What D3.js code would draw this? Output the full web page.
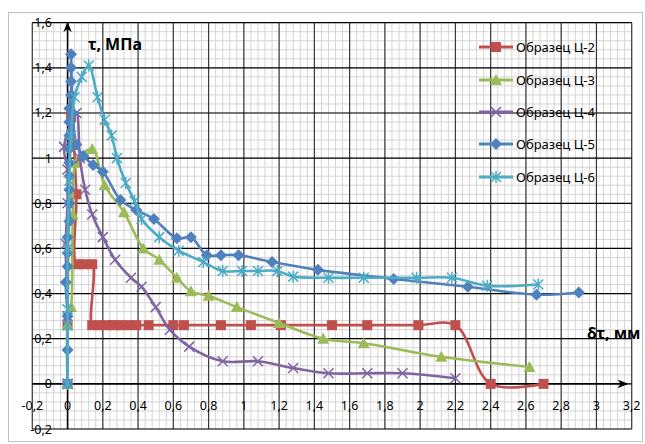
<!DOCTYPE html>
<html>
<head>
<meta charset="utf-8">
<script src="https://cdn.jsdelivr.net/npm/d3@7"></script>
<style>
  body { margin: 0; background: #fff; }
  svg text { font-family: "Noto Sans", "DejaVu Sans", sans-serif; }
</style>
</head>
<body>
<svg id="chart" width="645" height="444"></svg>
<script>
// series: [δτ, τ]
const c2 = [[0,0],[0,0.26],[0.02,1.18],[0.05,0.84],[0.05,0.53],[0.09,0.53],[0.14,0.53],[0.14,0.26],[0.18,0.26],[0.22,0.26],[0.26,0.26],[0.30,0.26],[0.34,0.26],[0.39,0.26],[0.46,0.26],[0.60,0.26],[0.66,0.26],[0.87,0.26],[1.04,0.26],[1.21,0.26],[1.50,0.26],[1.70,0.26],[1.99,0.26],[2.20,0.26],[2.40,0],[2.70,0]];
const c3 = [[0,0],[0,0.26],[0.02,0.34],[0.03,0.75],[0.05,0.98],[0.14,1.04],[0.21,0.88],[0.32,0.76],[0.43,0.60],[0.52,0.55],[0.62,0.47],[0.70,0.41],[0.80,0.39],[0.96,0.34],[1.20,0.27],[1.45,0.20],[1.68,0.18],[2.12,0.12],[2.62,0.075]];
const c4 = [[0,0],[0,0.3],[-0.01,0.62],[0,0.8],[0,0.95],[-0.02,1.05],[0.05,1.2],[0.07,1.0],[0.10,0.86],[0.14,0.75],[0.20,0.65],[0.27,0.55],[0.36,0.47],[0.42,0.43],[0.50,0.34],[0.58,0.24],[0.69,0.165],[0.88,0.10],[1.08,0.10],[1.28,0.07],[1.48,0.047],[1.70,0.047],[1.90,0.047],[2.20,0.025]];
const c5 = [[0,0],[0,0.15],[0,0.3],[-0.01,0.45],[0,0.52],[0,0.58],[0,0.65],[0.01,0.72],[0.01,0.8],[0.01,0.86],[0.01,0.92],[0.01,0.98],[0.01,1.04],[0.01,1.1],[0.01,1.16],[0.01,1.22],[0.02,1.28],[0.02,1.34],[0.02,1.4],[0.02,1.46],[0.03,1.2],[0.05,1.06],[0.09,1.01],[0.145,0.97],[0.20,0.94],[0.30,0.815],[0.39,0.77],[0.49,0.73],[0.62,0.645],[0.70,0.65],[0.79,0.57],[0.87,0.57],[0.97,0.57],[1.16,0.54],[1.42,0.505],[1.85,0.465],[2.27,0.43],[2.66,0.395],[2.90,0.405]];
const c6 = [[0,0],[0,0.26],[0,0.33],[0,0.6],[0.01,0.9],[0.02,1.1],[0.04,1.27],[0.08,1.36],[0.12,1.41],[0.17,1.27],[0.21,1.17],[0.25,1.10],[0.28,1.0],[0.33,0.89],[0.38,0.81],[0.42,0.73],[0.52,0.65],[0.63,0.59],[0.77,0.54],[0.88,0.50],[0.99,0.50],[1.08,0.50],[1.19,0.50],[1.28,0.475],[1.48,0.47],[1.68,0.47],[1.98,0.47],[2.18,0.47],[2.38,0.435],[2.67,0.44]];

const seriesNames = ["Образец Ц-2", "Образец Ц-3", "Образец Ц-4", "Образец Ц-5", "Образец Ц-6"];
const xTicks = [-0.2,0,0.2,0.4,0.6,0.8,1,1.2,1.4,1.6,1.8,2,2.2,2.4,2.6,2.8,3,3.2];
const yTicks = [-0.2,0,0.2,0.4,0.6,0.8,1,1.2,1.4,1.6];

const series = [
  { name: seriesNames[0], data: c2, color: "#C0504D", marker: "square" },
  { name: seriesNames[1], data: c3, color: "#9BBB59", marker: "triangle" },
  { name: seriesNames[2], data: c4, color: "#8064A2", marker: "x" },
  { name: seriesNames[3], data: c5, color: "#4F81BD", marker: "diamond" },
  { name: seriesNames[4], data: c6, color: "#4BACC6", marker: "star" },
];

const svg = d3.select("#chart");
const x = d3.scaleLinear().domain([-0.2, 3.2]).range([32.3, 631.7]);
const y = d3.scaleLinear().domain([-0.2, 1.6]).range([429, 22.7]);
const fmt = (v) => String(Math.round(v * 10) / 10).replace(".", ",");

// outer border
svg.append("rect").attr("x", 8.5).attr("y", 12.5).attr("width", 634).attr("height", 429)
  .attr("fill", "none").attr("stroke", "#c0c0c0");

// minor grid
const minorX = d3.range(-0.2, 3.2001, 0.04);
const minorY = d3.range(-0.2, 1.6001, 0.04);
const grid = svg.append("g");
grid.selectAll(".mx").data(minorX).join("line")
  .attr("x1", (d) => x(d)).attr("x2", (d) => x(d)).attr("y1", y(-0.2)).attr("y2", y(1.6))
  .attr("stroke", "#d4d4d4").attr("stroke-width", 1);
grid.selectAll(".my").data(minorY).join("line")
  .attr("y1", (d) => y(d)).attr("y2", (d) => y(d)).attr("x1", x(-0.2)).attr("x2", x(3.2))
  .attr("stroke", "#d4d4d4").attr("stroke-width", 1);
// major grid
grid.append("g").selectAll("line").data(xTicks).join("line")
  .attr("x1", (d) => x(d)).attr("x2", (d) => x(d)).attr("y1", y(-0.2)).attr("y2", y(1.6))
  .attr("stroke", "#3a3a3a").attr("stroke-width", 1.2);
grid.append("g").selectAll("line").data(yTicks).join("line")
  .attr("y1", (d) => y(d)).attr("y2", (d) => y(d)).attr("x1", x(-0.2)).attr("x2", x(3.2))
  .attr("stroke", "#000").attr("stroke-width", 1.2);

// axes with arrows
const defs = svg.append("defs");
defs.append("marker").attr("id", "arrow").attr("viewBox", "0 0 10 10")
  .attr("refX", 9).attr("refY", 5).attr("markerWidth", 7).attr("markerHeight", 7)
  .attr("orient", "auto")
  .append("path").attr("d", "M0,1 L10,5 L0,9 L3,5 Z").attr("fill", "#000");
svg.append("line").attr("x1", x(-0.2)).attr("x2", 627).attr("y1", y(0)).attr("y2", y(0))
  .attr("stroke", "#000").attr("stroke-width", 1.5).attr("marker-end", "url(#arrow)");
svg.append("line").attr("x1", x(0)).attr("x2", x(0)).attr("y1", y(-0.2)).attr("y2", y(1.6))
  .attr("stroke", "#000").attr("stroke-width", 1.5).attr("marker-end", "url(#arrow)");

// tick labels
svg.append("g").selectAll("text").data(xTicks).join("text")
  .attr("x", (d) => x(d)).attr("y", 410).attr("text-anchor", "middle")
  .attr("font-size", 12.5).attr("fill", "#000").text(fmt);
svg.append("g").selectAll("text").data(yTicks).join("text")
  .attr("x", 52).attr("y", (d) => y(d) + 4.5).attr("text-anchor", "end")
  .attr("font-size", 12.5).attr("fill", "#000").text(fmt);

// axis titles
svg.append("text").attr("x", 88).attr("y", 50).attr("font-size", 16).attr("font-weight", "bold")
  .text("τ, МПа");
svg.append("text").attr("x", 587).attr("y", 339).attr("font-size", 16).attr("font-weight", "bold")
  .text("δτ, мм");

function drawMarker(g, type, color, cx, cy) {
  if (type === "square") {
    g.append("rect").attr("x", cx - 5).attr("y", cy - 5).attr("width", 10).attr("height", 10).attr("fill", color);
  } else if (type === "triangle") {
    g.append("path").attr("d", `M${cx},${cy - 6} L${cx + 6},${cy + 5} L${cx - 6},${cy + 5} Z`).attr("fill", color);
  } else if (type === "diamond") {
    g.append("path").attr("d", `M${cx},${cy - 6} L${cx + 6},${cy} L${cx},${cy + 6} L${cx - 6},${cy} Z`).attr("fill", color);
  } else if (type === "x") {
    g.append("path").attr("d", `M${cx - 5},${cy - 5} L${cx + 5},${cy + 5} M${cx - 5},${cy + 5} L${cx + 5},${cy - 5}`)
      .attr("stroke", color).attr("stroke-width", 1.5);
  } else {
    g.append("path").attr("d", `M${cx - 5},${cy - 5} L${cx + 5},${cy + 5} M${cx - 5},${cy + 5} L${cx + 5},${cy - 5} M${cx},${cy - 6} L${cx},${cy + 6}`)
      .attr("stroke", color).attr("stroke-width", 1.5);
  }
}

const line = d3.line().x((d) => x(d[0])).y((d) => y(d[1])).curve(d3.curveCatmullRom.alpha(0.5));

series.forEach((s) => {
  const g = svg.append("g");
  g.append("path").datum(s.data).attr("d", line).attr("fill", "none")
    .attr("stroke", s.color).attr("stroke-width", 2.6).attr("stroke-linejoin", "round");
  s.data.forEach((d) => drawMarker(g, s.marker, s.color, x(d[0]), y(d[1])));
});

// legend
const legendY = [47, 80, 112, 144, 177];
series.forEach((s, i) => {
  const g = svg.append("g");
  g.append("line").attr("x1", 479).attr("x2", 513).attr("y1", legendY[i]).attr("y2", legendY[i])
    .attr("stroke", s.color).attr("stroke-width", 3);
  drawMarker(g, s.marker, s.color, 496, legendY[i]);
  g.append("text").attr("x", 516).attr("y", legendY[i] + 4.5).attr("font-size", 13).attr("fill", "#000").text(s.name);
});
</script>
</body>
</html>
